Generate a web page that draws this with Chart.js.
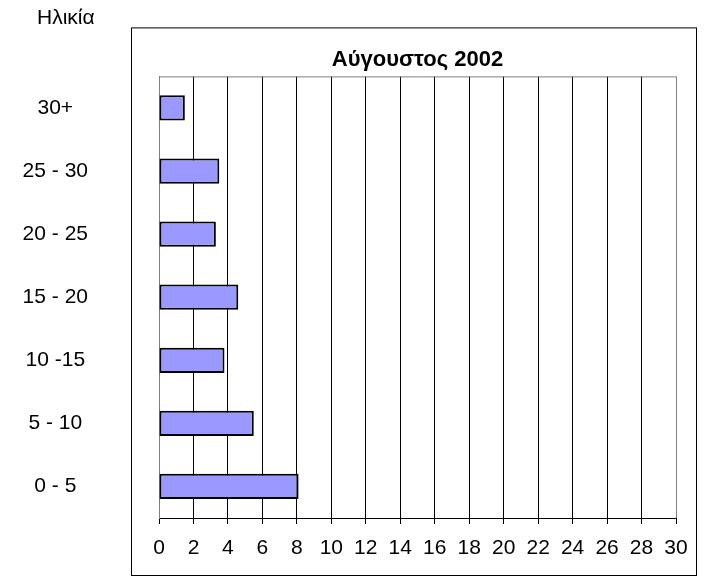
<!DOCTYPE html>
<html>
<head>
<meta charset="utf-8">
<title>Αύγουστος 2002</title>
<script src="https://cdn.jsdelivr.net/npm/chart.js@4"></script>
<style>
  body { margin: 0; background: #fff; }
  #wrap { width: 705px; height: 576px; }
</style>
</head>
<body>
<div id="wrap"><canvas id="myChart" width="705" height="576"></canvas></div>
<script>
// age groups, top to bottom as in the picture
const ageGroups = ['30+', '25 - 30', '20 - 25', '15 - 20', '10 -15', '5 - 10', '0 - 5'];
const counts = [1.5, 3.5, 3.3, 4.6, 3.8, 5.5, 8.1];
const xMin = 0;
const xMax = 30;
const xStep = 2;
const chartTitle = 'Αύγουστος 2002';
const axisTitle = 'Ηλικία';

const FONT = '"Liberation Sans", Arial, sans-serif';

// outer frame, the grey plot border and the "Ηλικία" label
const framePlugin = {
  id: 'frame',
  beforeDatasetsDraw(chart) {
    const ctx = chart.ctx;
    const a = chart.chartArea;
    ctx.save();
    ctx.strokeStyle = '#000';
    ctx.lineWidth = 1;
    ctx.strokeRect(a.left - 28 + 0.5, a.top - 49 + 0.5, a.width + 48, a.height + 106);

    ctx.strokeStyle = '#808080';
    ctx.beginPath();
    ctx.moveTo(a.left, a.top + 0.5);
    ctx.lineTo(a.right, a.top + 0.5);
    ctx.stroke();

    ctx.fillStyle = '#000';
    ctx.font = '21px ' + FONT;
    ctx.textBaseline = 'middle';
    ctx.textAlign = 'left';
    ctx.fillText(axisTitle, 37, 18);
    ctx.restore();
  }
};

function initChart() {
  const canvas = document.getElementById('myChart');
  const ctx = canvas.getContext('2d');

  new Chart(ctx, {
    type: 'bar',
    data: {
      labels: ageGroups,
      datasets: [{
        data: counts,
        backgroundColor: '#9999ff',
        borderColor: '#000',
        borderWidth: 2,
        borderSkipped: false,
        categoryPercentage: 1,
        barPercentage: 0.4
      }]
    },
    options: {
      responsive: false,
      animation: false,
      indexAxis: 'y',
      layout: {
        padding: { left: 11, right: 29, top: 47, bottom: 15 }
      },
      plugins: {
        legend: { display: false },
        tooltip: { enabled: false },
        title: {
          display: true,
          text: chartTitle,
          fullSize: false,
          color: '#000',
          font: { family: FONT, size: 22, weight: 'bold' },
          padding: { top: 0, bottom: 3 }
        }
      },
      scales: {
        x: {
          min: xMin,
          max: xMax,
          afterFit(scale) { scale.height = 43; },
          ticks: {
            stepSize: xStep,
            color: '#000',
            padding: 12,
            maxRotation: 0,
            font: { family: FONT, size: 21 }
          },
          grid: {
            color: (c) => (c.index === 0 || c.index === (xMax - xMin) / xStep) ? '#808080' : '#000',
            tickColor: '#000',
            tickLength: 6
          },
          border: { color: '#000', width: 1 }
        },
        y: {
          // labels sit far left of the frame; keep that gap out of the vertical padding
          afterFit(scale) {
            scale.width = 148;
            scale.paddingTop = 0;
            scale.paddingBottom = 0;
          },
          ticks: {
            color: '#000',
            crossAlign: 'center',
            padding: 71,
            font: { family: FONT, size: 21 }
          },
          grid: { display: false, drawTicks: false },
          border: { color: '#808080', width: 1 }
        }
      }
    },
    plugins: [framePlugin]
  });
}

window.addEventListener('load', initChart);
</script>
</body>
</html>
